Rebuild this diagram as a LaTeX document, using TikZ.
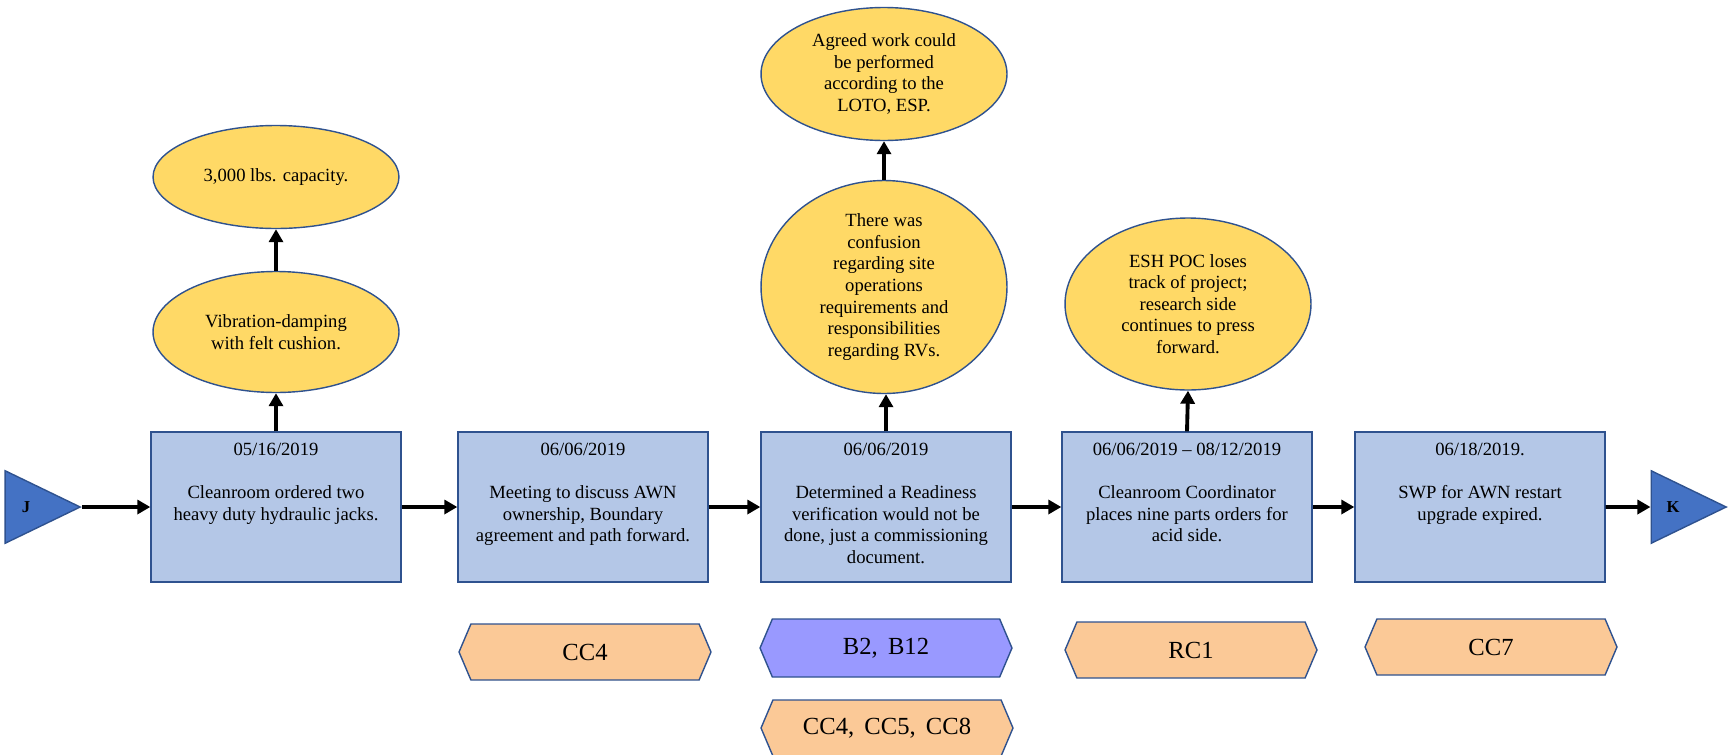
\documentclass[tikz,border=0pt]{standalone}
\usepackage{fontspec}
\setmainfont{Liberation Serif}
\usetikzlibrary{arrows.meta,shapes.geometric,shapes.symbols}
\definecolor{event}{HTML}{B4C7E7}
\definecolor{edge}{HTML}{2F528F}
\definecolor{factor}{HTML}{FFD966}
\definecolor{cause}{HTML}{FBC997}
\definecolor{barrier}{HTML}{9999FF}
\definecolor{link}{HTML}{4472C4}
\newcommand{\evtext}[2]{\parbox[c][2.56cm][t]{4.8cm}{\centering #1\\[\baselineskip]#2}}

\begin{document}
\begin{tikzpicture}[x=0.02cm,y=-0.02cm,font=\fontsize{10.6}{12.3}\selectfont,
  evt/.style={draw=edge,fill=event,line width=0.8pt,minimum width=5cm,minimum height=3cm,inner sep=0pt},
  fct/.style={ellipse,draw=edge,fill=factor,line width=0.8pt,minimum width=4.92cm,inner sep=0pt,align=center},
  tag/.style={signal,signal to=west and east,signal pointer angle=134,draw=edge,line width=0.8pt,minimum width=5.04cm,minimum height=1.12cm,inner sep=0pt,font=\fontsize{14}{16}\selectfont},
  termin/.style={isosceles triangle,isosceles triangle stretches,draw=edge,fill=link,line width=0.8pt,minimum width=1.45cm,minimum height=1.5cm,inner sep=0pt,font=\bfseries\fontsize{9.5}{11}\selectfont},
  flow/.style={line width=2.2pt,-{Triangle[length=0.26cm,width=0.28cm]}}]
  \useasboundingbox (0,0) rectangle (1730,754);

  % Timeline of events
  \node[termin,anchor=apex] (J) at (82,507) {J};
  \node[evt] (c1) at (276,507) {\evtext{05/16/2019}{Cleanroom ordered two\\heavy duty hydraulic jacks.}};
  \node[evt] (c2) at (583,507) {\evtext{06/06/2019}{Meeting to discuss AWN\\ownership, Boundary\\agreement and path forward.}};
  \node[evt] (c3) at (886,507) {\evtext{06/06/2019}{Determined a Readiness\\verification would not be\\done, just a commissioning\\document.}};
  \node[evt] (c4) at (1187,507) {\evtext{06/06/2019 -- 08/12/2019}{Cleanroom Coordinator\\places nine parts orders for\\acid side.}};
  \node[evt] (c5) at (1480,507) {\evtext{06/18/2019.}{SWP for AWN restart\\upgrade expired.}};
  \node[termin,anchor=apex] (K) at (1728,507) {K};

  \draw[flow] (J.apex) -- (c1.west);
  \draw[flow] (c1) -- (c2);
  \draw[flow] (c2) -- (c3);
  \draw[flow] (c3) -- (c4);
  \draw[flow] (c4) -- (c5);
  \draw[flow] (c5.east) -- (K);

  % Conditions above the events
  \node[fct,minimum height=2.42cm] (e1a) at (276,332) {Vibration-damping\\with felt cushion.};
  \node[fct,minimum height=2.06cm] (e1b) at (276,177) {3,000 lbs. capacity.};
  \node[fct,minimum height=4.26cm] (e3a) at (884,287) {There was\\confusion\\regarding site\\operations\\requirements and\\responsibilities\\regarding RVs.};
  \node[fct,minimum height=2.66cm] (e3b) at (884,74) {Agreed work could\\be performed\\according to the\\LOTO, ESP.};
  \node[fct,minimum height=3.44cm] (e4) at (1188,304) {ESH POC loses\\track of project;\\research side\\continues to press\\forward.};

  \draw[flow] (c1.north) -- (e1a.south);
  \draw[flow] (e1a) -- (e1b);
  \draw[flow] (c3.north) -- (c3.north |- e3a.south);
  \draw[flow] (e3a) -- (e3b);
  \draw[flow] (c4.north) -- (e4.south);

  % Causal codes below
  \node[tag,fill=cause] (t2) at (585,652) {CC4};
  \node[tag,fill=barrier,minimum height=1.16cm] (t3a) at (886,648) {B2,\, B12};
  \node[tag,fill=cause] (t3b) at (887,728) {CC4,\, CC5,\, CC8};
  \node[tag,fill=cause] (t4) at (1191,650) {RC1};
  \node[tag,fill=cause] (t5) at (1491,647) {CC7};
\end{tikzpicture}
\end{document}
